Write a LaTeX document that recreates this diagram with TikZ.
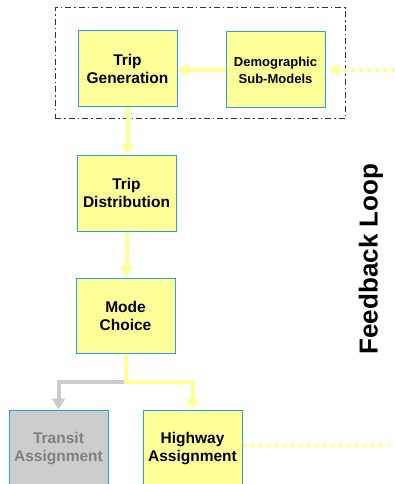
\documentclass[tikz,border=0pt]{standalone}
\usepackage{fontspec}
\setmainfont{Liberation Sans}
\usetikzlibrary{arrows.meta}
\definecolor{boxfill}{HTML}{FFFF99}
\definecolor{boxline}{HTML}{29A3D6}
\definecolor{flow}{HTML}{FFFF99}
\definecolor{grayfill}{HTML}{CCCCCC}
\definecolor{graytext}{HTML}{808080}
\definecolor{grayflow}{HTML}{CCCCCC}
\definecolor{framecol}{HTML}{333333}
\begin{document}
\begin{tikzpicture}[x=1pt,y=-1pt,
  stepbox/.style={draw=boxline, line width=1pt, fill=boxfill, minimum width=99pt,
    minimum height=76pt, align=center, inner sep=0pt,
    font=\bfseries\fontsize{15.5}{18}\selectfont},
  smallbox/.style={stepbox, font=\bfseries\fontsize{13}{17}\selectfont},
  graybox/.style={stepbox, fill=grayfill, text=graytext},
  flowline/.style={draw=flow, line width=4pt, -{Triangle[width=13pt,length=11pt]}},
  grayline/.style={draw=grayflow, line width=4pt, -{Triangle[width=13pt,length=11pt]}},
  dotline/.style={draw=flow, line width=4pt, dash pattern=on 4pt off 4pt},
  framebox/.style={draw=framecol, line width=1pt, dash pattern=on 6pt off 3pt on 1.5pt off 3pt,
    minimum width=290pt, minimum height=111pt, inner sep=0pt},
  looplabel/.style={rotate=90, font=\bfseries\fontsize{26}{30}\selectfont, inner sep=0pt}
]
\clip (0,0) rectangle (395,484);
\node[framebox] (frame) at (200,63.5) {};
\node[stepbox] (gen) at (127.5,69) {Trip\\Generation};
\node[smallbox] (demo) at (275.5,70) {Demographic\\Sub-Models};
\node[stepbox] (dist) at (126.5,193) {Trip\\Distribution};
\node[stepbox, minimum height=75pt] (mode) at (125.5,315.5) {Mode\\Choice};
\node[graybox, minimum height=78pt] (transit) at (58.5,449) {Transit\\Assignment};
\node[stepbox, minimum height=78pt] (highway) at (192.5,449) {Highway\\Assignment};
\node[looplabel] (loop) at (371,259) {Feedback Loop};
\coordinate (fbin) at (395,70);
\coordinate (fbout) at (395,445);
\coordinate (split) at (125.5,382);
% connectors
\draw[flowline] (demo.west) -- (demo.west -| gen.east);
\draw[flowline] (gen.south) -- (gen.south |- dist.north);
\draw[flowline] (dist.south) -- (dist.south |- mode.north);
\draw[grayline] (split) -| (transit.north);
\draw[flowline] (mode.south) -- (split) -| (highway.north);
\draw[dotline] (fbin) -- ([xshift=14pt]demo.east);
\draw[draw=none, fill=flow] ([xshift=3pt]demo.east) -- ++(11,-6.5) -- ++(0,13) -- cycle;
\draw[dotline] (fbout -| highway.east) -- (fbout);
\end{tikzpicture}
\end{document}
